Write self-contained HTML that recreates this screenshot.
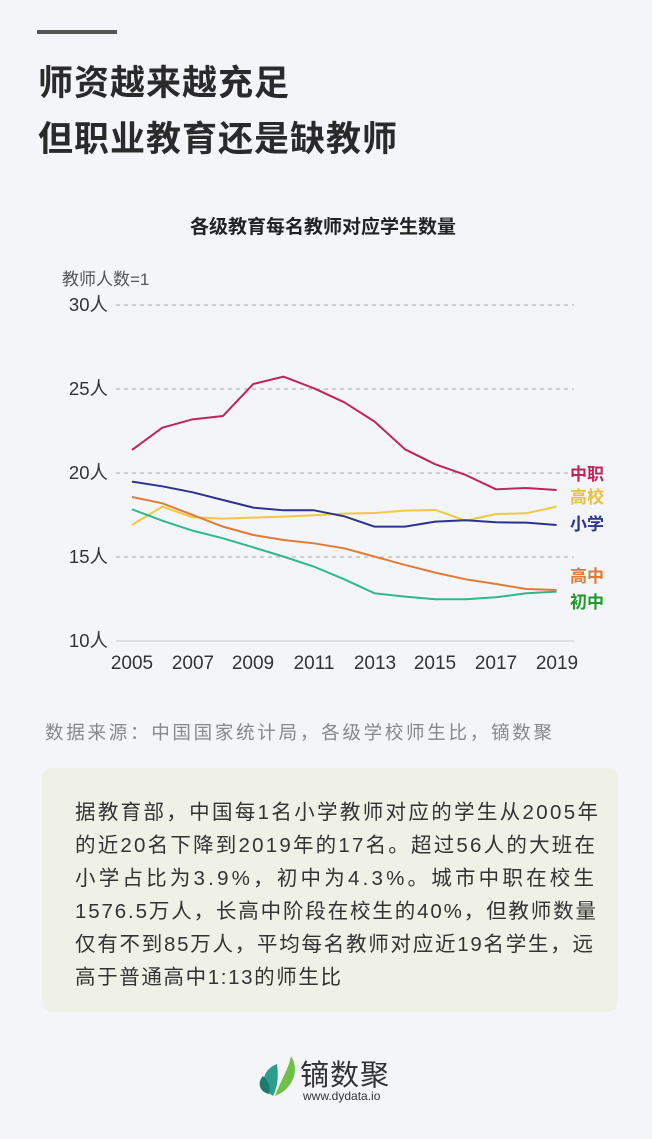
<!DOCTYPE html>
<html><head><meta charset="utf-8"><style>
body{margin:0;width:652px;height:1139px;background:#f3f5f8;font-family:"Liberation Sans","Noto Sans CJK SC",sans-serif;position:relative;overflow:hidden}
.bar{position:absolute;left:37px;top:30px;width:80px;height:4px;background:#555}
.t{position:absolute;left:38px;font-size:35px;font-weight:bold;color:#2a2a2a;letter-spacing:1px}
.box{position:absolute;left:42px;top:768px;width:576px;height:244px;background:#eff0e6;border-radius:10px}
</style></head><body>
<div class="bar"></div>
<div class="t" style="top:55px">师资越来越充足</div>
<div class="t" style="top:111px">但职业教育还是缺教师</div>
<svg style="position:absolute;left:0;top:0" width="652" height="760">
<g font-family="Liberation Sans, Noto Sans CJK SC, sans-serif">
<text x="323" y="233" text-anchor="middle" font-size="19" font-weight="bold" fill="#222">各级教育每名教师对应学生数量</text>
<text x="62" y="285" font-size="17" fill="#555">教师人数=1</text>
<g stroke="#aaa" stroke-dasharray="4 4" stroke-width="1">
<line x1="116" x2="574" y1="305" y2="305"/><line x1="116" x2="574" y1="389" y2="389"/><line x1="116" x2="574" y1="473" y2="473"/><line x1="116" x2="574" y1="557" y2="557"/></g>
<line x1="116" x2="574" y1="641" y2="641" stroke="#ccc"/>
<g font-size="18.5" fill="#333" text-anchor="end"><text x="108" y="311">30人</text><text x="108" y="395">25人</text><text x="108" y="479">20人</text><text x="108" y="563">15人</text><text x="108" y="647">10人</text></g>
<g font-size="19" fill="#333" text-anchor="middle"><text x="132" y="669">2005</text><text x="193" y="669">2007</text><text x="253" y="669">2009</text><text x="314" y="669">2011</text><text x="375" y="669">2013</text><text x="435" y="669">2015</text><text x="496" y="669">2017</text><text x="557" y="669">2019</text></g>
<g transform="translate(100,280) scale(0.3333)" fill="none" stroke-width="6" stroke-linejoin="round">
<polyline stroke="#c0245a" points="96,510 187,443 278,418 369,408 460,312 551,290 642,325 733,367 824,425 915,508 1006,553 1097,585 1188,628 1279,624 1370,630"/>
<polyline stroke="#f0c940" points="96,735 187,680 278,712 369,716 460,713 551,710 642,706 733,701 824,699 915,692 1006,690 1097,722 1188,702 1279,700 1370,680"/>
<polyline stroke="#2a3490" points="96,605 187,619 278,637 369,660 460,683 551,691 642,691 733,709 824,740 915,740 1006,725 1097,721 1188,727 1279,728 1370,735"/>
<polyline stroke="#e07a38" points="96,651 187,670 278,705 369,740 460,765 551,780 642,790 733,805 824,830 915,855 1006,878 1097,898 1188,912 1279,927 1370,930"/>
<polyline stroke="#2fb88a" points="96,688 187,722 278,752 369,775 460,802 551,830 642,860 733,898 824,940 915,950 1006,958 1097,958 1188,952 1279,940 1370,935"/>
</g>
<g font-size="17" font-weight="bold"><text x="570" y="480" fill="#c0245a">中职</text><text x="570" y="503" fill="#e8c040">高校</text><text x="570" y="530" fill="#2a3490">小学</text><text x="570" y="582" fill="#e07a38">高中</text><text x="570" y="608" fill="#1f9a2a">初中</text></g>
<text x="45" y="739" font-size="18.5" fill="#888" textLength="507">数据来源：中国国家统计局，各级学校师生比，镝数聚</text>
</g></svg>
<div class="box"></div>
<svg style="position:absolute;left:0;top:768px" width="652" height="244">
<g font-family="Liberation Sans, Noto Sans CJK SC, sans-serif" font-size="20.5" fill="#333">
<text x="75" y="51" textLength="523">据教育部，中国每1名小学教师对应的学生从2005年</text>
<text x="75" y="84" textLength="520">的近20名下降到2019年的17名。超过56人的大班在</text>
<text x="75" y="117" textLength="519">小学占比为3.9%，初中为4.3%。城市中职在校生</text>
<text x="75" y="150" textLength="521">1576.5万人，长高中阶段在校生的40%，但教师数量</text>
<text x="75" y="183" textLength="518">仅有不到85万人，平均每名教师对应近19名学生，远</text>
<text x="75" y="216" textLength="266">高于普通高中1:13的师生比</text>
</g></svg>
<svg style="position:absolute;left:255px;top:1052px" width="50" height="46">
<path d="M18 44 C4 36 6 18 22 12 C24 26 22 36 18 44Z" fill="#2a9d8f"/>
<path d="M20 44 C26 28 34 16 36 4 C46 20 36 38 20 44Z" fill="#6fbf4a"/>
<path d="M14 42 C4 40 2 30 8 24 C14 30 16 36 14 42Z" fill="#1f7a6a"/>
</svg>
<div style="position:absolute;left:300px;top:1052px;font-size:29px;color:#333;letter-spacing:1px">镝数聚</div>
<div style="position:absolute;left:303px;top:1089px;font-size:12px;color:#333">www.dydata.io</div>
</body></html>
